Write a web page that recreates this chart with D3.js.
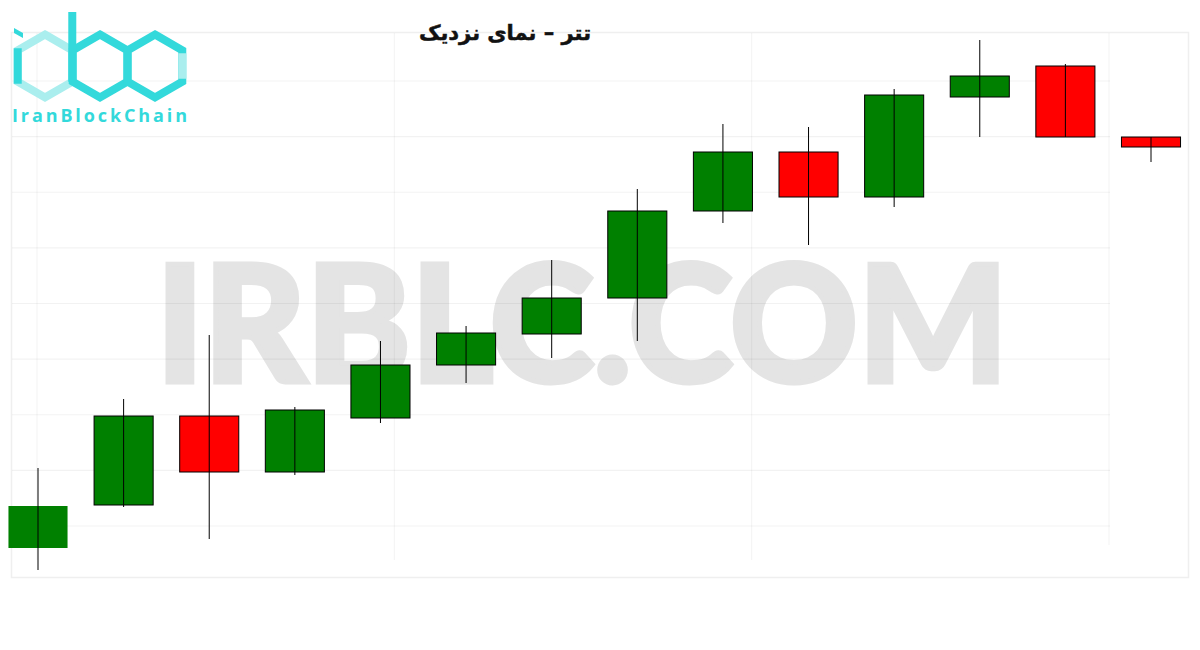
<!DOCTYPE html>
<html>
<head>
<meta charset="utf-8">
<script src="https://cdn.jsdelivr.net/npm/d3@7"></script>
<style>
  body { margin: 0; background: #fff; }
  svg { display: block; }
</style>
</head>
<body>
<div id="chart"></div>
<script>
// candle data (price units)
const days = ['1','2','3','4','5','6','7','8','9','10','11','12','13','14']
const opens  = [52, 95, 184, 128, 182, 235, 266, 302, 389, 448, 403, 503, 534, 463]
const closes = [94, 184, 128, 190, 235, 267, 302, 389, 448, 403, 505, 524, 463, 453]
const highs  = [132, 201, 265, 193, 259, 274, 340, 411, 476, 473, 511, 560, 536, 463]
const lows   = [30, 93, 61, 125, 177, 217, 242, 259, 377, 355, 393, 463, 463, 438]
const gridRows = [0, 1, 2, 3, 4, 5, 6, 7, 8]
const gridCols = [0, 1, 2, 3]

const width = 1200, height = 650

const svg = d3.select('#chart').append('svg')
    .attr('width', width)
    .attr('height', height)

const candles = days.map((d, i) => ({day: d, open: opens[i], close: closes[i], high: highs[i], low: lows[i]}))

const xScale = d3.scalePoint()
    .domain(days)
    .range([38, 1151])
const step = xScale.step()
const bodyW = step * 0.69

const yScale = d3.scaleLinear()
    .domain([0, 600])
    .range([600, 0])

// watermark
svg.append('text')
    .text('IRBLC.COM')
    .attr('x', 156).attr('y', 382)
    .attr('textLength', 852)
    .attr('lengthAdjust', 'spacingAndGlyphs')
    .attr('font-family', 'Lato, "Open Sans", sans-serif')
    .attr('font-weight', 900)
    .attr('font-size', 163)
    .attr('fill', '#e4e4e4')
    .attr('stroke', '#e4e4e4')
    .attr('stroke-width', 5)
    .attr('stroke-linejoin', 'miter')

// faint frame + grid
svg.append('rect')
    .attr('x', 11.5).attr('y', 32.5)
    .attr('width', 1177).attr('height', 545)
    .attr('fill', 'none')
    .attr('stroke', '#efefef')
    .attr('stroke-width', 1.5)

const gy = d3.scaleLinear().domain([0, 8]).range([81, 526])
svg.selectAll('line.hgrid')
    .data(gridRows)
    .enter().append('line')
    .attr('class', 'hgrid')
    .attr('x1', 12).attr('x2', 1110)
    .attr('y1', d => gy(d)).attr('y2', d => gy(d))
    .attr('stroke', '#000')
    .attr('stroke-opacity', 0.05)
    .attr('stroke-width', 1.2)

const gx = d3.scaleLinear().domain([0, 3]).range([37, 1109])
svg.selectAll('line.vgrid')
    .data(gridCols)
    .enter().append('line')
    .attr('class', 'vgrid')
    .attr('x1', d => gx(d)).attr('x2', d => gx(d))
    .attr('y1', 33).attr('y2', d => d == 3 ? 545 : 560)
    .attr('stroke', '#000')
    .attr('stroke-opacity', 0.05)
    .attr('stroke-width', 1)

// logo
const logo = svg.append('g').attr('class', 'logo')
const hexR = 31.5
const hexCy = 66
const hw = hexR * Math.sqrt(3) / 2
function hexPath(cx, cy, r) {
    const pts = d3.range(6).map(k => {
        const a = Math.PI / 180 * (-90 + 60 * k)
        return [cx + r * Math.cos(a), cy + r * Math.sin(a)]
    })
    return d3.line()(pts) + 'Z'
}
const hexCx = [45, 100, 155]
logo.selectAll('path.hex')
    .data(hexCx)
    .enter().append('path')
    .attr('class', 'hex')
    .attr('d', d => hexPath(d, hexCy, hexR))
    .attr('fill', 'none')
    .attr('stroke', (d, i) => i == 0 ? '#aaeeee' : '#33d9db')
    .attr('stroke-width', 8)
    .attr('stroke-linejoin', 'miter')
// darker left side of the i, lighter right side of the c
logo.append('line')
    .attr('x1', 45 - hw).attr('x2', 45 - hw)
    .attr('y1', hexCy - hexR / 2 - 2).attr('y2', hexCy + hexR / 2 + 2)
    .attr('stroke', '#33d9db').attr('stroke-width', 8)
logo.append('line')
    .attr('x1', 155 + hw).attr('x2', 155 + hw)
    .attr('y1', hexCy - hexR / 2 + 3).attr('y2', hexCy + hexR / 2 - 3)
    .attr('stroke', '#aaeeee').attr('stroke-width', 8)
// b stem
logo.append('line')
    .attr('x1', 45 + hw).attr('x2', 45 + hw)
    .attr('y1', 12).attr('y2', hexCy + hexR / 2)
    .attr('stroke', '#33d9db').attr('stroke-width', 8)
// i dot
logo.append('path')
    .attr('d', 'M14,28 L23,33 L23,38 L14,33 Z')
    .attr('fill', '#33d9db')
logo.append('text')
    .text('IranBlockChain')
    .attr('x', 12).attr('y', 122)
    .attr('textLength', 175)
    .attr('lengthAdjust', 'spacing')
    .attr('font-family', '"Open Sans", sans-serif')
    .attr('font-weight', 700)
    .attr('font-size', 18)
    .attr('fill', '#33d9db')

// title
svg.append('text')
    .text('تتر – نمای نزدیک')
    .attr('x', 505).attr('y', 40)
    .attr('text-anchor', 'middle')
    .attr('direction', 'rtl')
    .attr('font-family', '"DejaVu Sans", sans-serif')
    .attr('font-weight', 'bold')
    .attr('font-size', 21)
    .attr('fill', '#111')
    .attr('stroke', '#111')
    .attr('stroke-width', 0.5)

// candles
const g = svg.append('g').attr('class', 'candles')
g.selectAll('rect.body')
    .data(candles)
    .enter().append('rect')
    .attr('class', 'body')
    .attr('x', d => xScale(d.day) - bodyW / 2)
    .attr('y', d => yScale(Math.max(d.open, d.close)))
    .attr('width', bodyW)
    .attr('height', d => Math.abs(yScale(d.open) - yScale(d.close)))
    .attr('fill', d => d.close >= d.open ? '#008000' : '#ff0000')
    .attr('stroke', (d, i) => i == 0 ? 'none' : '#000')
    .attr('stroke-width', 1)

g.selectAll('line.wick')
    .data(candles)
    .enter().append('line')
    .attr('class', 'wick')
    .attr('x1', d => xScale(d.day)).attr('x2', d => xScale(d.day))
    .attr('y1', d => yScale(d.high))
    .attr('y2', d => yScale(d.low))
    .attr('stroke', '#000')
    .attr('stroke-width', 1)
</script>
</body>
</html>
